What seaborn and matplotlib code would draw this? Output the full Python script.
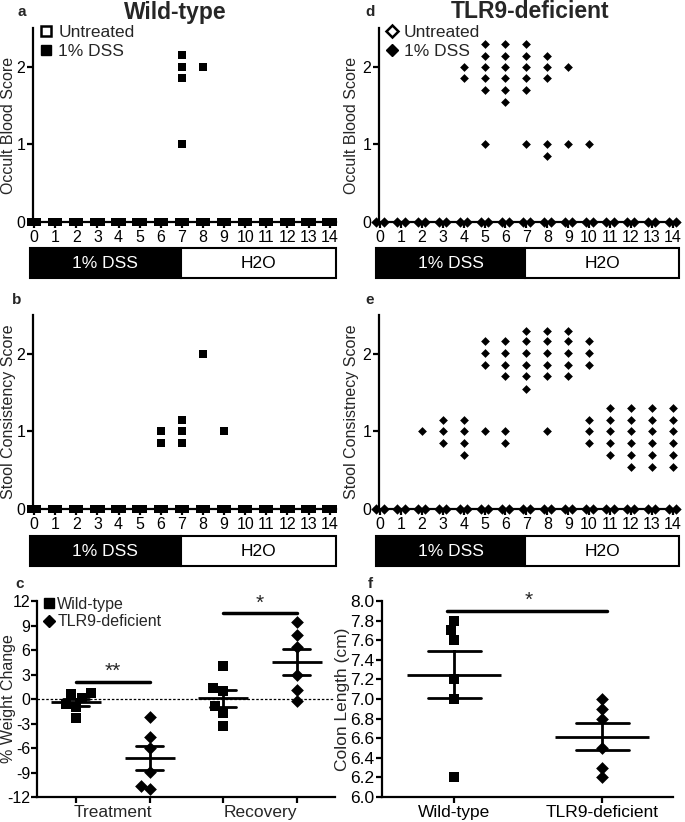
import numpy as np
import pandas as pd
import matplotlib
matplotlib.use("Agg")
import matplotlib.pyplot as plt
from matplotlib.lines import Line2D
import seaborn as sns

# ---- data ----
days = list(range(15))

# scores per day (non-zero animals only, stacked as drawn)
wt_blood = [[], [], [], [], [], [], [], [2.15, 2.0, 1.85, 1.0], [2.0],
            [], [], [], [], [], []]
wt_stool = [[], [], [], [], [], [], [1.0, 0.85], [1.15, 1.0, 0.85], [2.0],
            [1.0], [], [], [], [], []]
tlr9_blood = [[], [], [], [], [2.0, 1.85],
              [2.29, 2.14, 2.0, 1.85, 1.70, 1.0],
              [2.29, 2.14, 2.0, 1.85, 1.70, 1.54],
              [2.29, 2.14, 2.0, 1.85, 1.70, 1.0],
              [2.14, 2.0, 1.85, 1.0, 0.85],
              [2.0, 1.0], [1.0], [], [], [], []]
tlr9_stool = [[], [], [1.0], [1.15, 1.0, 0.85], [1.15, 1.0, 0.85, 0.70],
              [2.16, 2.01, 1.86, 1.0],
              [2.16, 2.01, 1.86, 1.71, 1.0, 0.85],
              [2.30, 2.16, 2.01, 1.86, 1.71, 1.55],
              [2.30, 2.16, 2.01, 1.86, 1.71, 1.0],
              [2.30, 2.16, 2.01, 1.86, 1.71],
              [2.16, 2.01, 1.86, 1.15, 1.0, 0.85],
              [1.30, 1.15, 1.0, 0.85, 0.70],
              [1.30, 1.15, 1.0, 0.85, 0.70, 0.54],
              [1.30, 1.15, 1.0, 0.85, 0.70, 0.54],
              [1.30, 1.15, 1.0, 0.85, 0.70, 0.54]]

phase_labels = ["1% DSS", "H2O"]
phase_edges = [-0.2, 6.95, 14.3]

# % weight change
wt_treatment = [0.7, 0.1, -0.6, -1.0, 0.6, -2.3]
tlr9_treatment = [-2.2, -4.6, -6.0, -8.9, -11.0, -10.6]
wt_recovery = [4.1, 1.0, 1.3, -0.9, -1.7, -3.3]
tlr9_recovery = [9.4, 7.8, 6.4, 2.9, 1.1, -0.3]
weight_periods = ["Treatment", "Recovery"]

# colon length (cm)
strains = ["Wild-type", "TLR9-deficient"]
wt_colon = [7.8, 7.7, 7.6, 7.2, 7.0, 6.2]
tlr9_colon = [7.0, 6.9, 6.8, 6.5, 6.3, 6.2]

sns.set_style("ticks")
plt.rcParams["font.family"] = ["Liberation Sans", "DejaVu Sans"]
plt.rcParams["axes.linewidth"] = 1.6
plt.rcParams["xtick.major.width"] = 1.6
plt.rcParams["ytick.major.width"] = 1.6
plt.rcParams["axes.unicode_minus"] = False

W, H = 685, 822
fig = plt.figure(figsize=(W / 100, H / 100), dpi=100)


def box(l, t, r, b):
    return fig.add_axes([l / W, 1 - b / H, (r - l) / W, (b - t) / H])


def style_axes(ax, size=11.5):
    sns.despine(ax=ax)
    ax.tick_params(axis="both", labelsize=size, length=4, pad=1.5,
                   color="k", labelcolor="k")
    for s in ["left", "bottom"]:
        ax.spines[s].set_color("k")


def score_panel(ax, scores, marker, size, zero_offsets, ylabel, label_x):
    df = pd.DataFrame([(d, s) for d, vals in zip(days, scores) for s in vals],
                      columns=["day", "score"])
    zeros = pd.DataFrame([(d + o, 0.0) for d in days for o in zero_offsets],
                         columns=["day", "score"])
    sns.scatterplot(data=zeros, x="day", y="score", marker=marker, s=size * 1.4,
                    color="k", edgecolor="k", linewidth=0, clip_on=False,
                    zorder=4, ax=ax, legend=False)
    sns.scatterplot(data=df, x="day", y="score", marker=marker, s=size,
                    color="k", edgecolor="k", linewidth=0, clip_on=False,
                    zorder=4, ax=ax, legend=False)
    ax.set_xlim(-0.05, 14.3)
    ax.set_ylim(0, 2.5)
    ax.set_xticks(days)
    ax.set_yticks([0, 1, 2])
    ax.set_xlabel("")
    ax.set_ylabel(ylabel, fontsize=11.5)
    ax.yaxis.set_label_coords(label_x, 0.5)
    style_axes(ax)


def phase_bar(l, t, r, b):
    bax = box(l, t, r, b)
    bax.barh(0, np.diff(phase_edges), left=phase_edges[:-1], height=1,
             color=["k", "w"], edgecolor="k", linewidth=1.5, clip_on=False)
    for i, lab in enumerate(phase_labels):
        mid = (phase_edges[i] + phase_edges[i + 1]) / 2
        bax.text(mid, 0, lab, ha="center", va="center", fontsize=12.5,
                 color="w" if i == 0 else "k")
    bax.set_xlim(-0.05, 14.3)
    bax.set_ylim(-0.5, 0.5)
    bax.axis("off")


def legend_sd(ax, marker, ms, anchor):
    handles = [Line2D([], [], marker=marker, ls="none", mfc="w", mec="k",
                      mew=1.8, ms=ms),
               Line2D([], [], marker=marker, ls="none", mfc="k", mec="k",
                      ms=ms)]
    ax.legend(handles, ["Untreated", "1% DSS"], loc="upper left",
              bbox_to_anchor=anchor, frameon=False, fontsize=12.5,
              handletextpad=0.3, labelspacing=0.2, handlelength=0.8,
              borderaxespad=0, borderpad=0)


# ---- panels a, b (wild-type) and d, e (TLR9) ----
ax_a = box(33, 28, 336, 222)
score_panel(ax_a, wt_blood, "s", 26, [-0.15, -0.05, 0.05, 0.15],
            "Occult Blood Score", -0.055)
legend_sd(ax_a, "s", 7, (0.02, 1.015))
phase_bar(33, 248, 336, 278)

ax_b = box(33, 315, 336, 509)
score_panel(ax_b, wt_stool, "s", 26, [-0.15, -0.05, 0.05, 0.15],
            "Stool Consistency Score", -0.055)
phase_bar(33, 536, 336, 566)

ax_d = box(379, 28, 679, 222)
score_panel(ax_d, tlr9_blood, "D", 20, [-0.17, 0.17], "Occult Blood Score",
            -0.065)
legend_sd(ax_d, "D", 6.5, (0.02, 1.015))
phase_bar(379, 248, 679, 278)

ax_e = box(379, 315, 679, 509)
score_panel(ax_e, tlr9_stool, "D", 20, [-0.17, 0.17],
            "Stool Consistnecy Score", -0.065)
phase_bar(379, 536, 679, 566)

# ---- panel c: weight change ----
order = ["WT Treatment", "TLR9 Treatment", "WT Recovery", "TLR9 Recovery"]
wdf = pd.DataFrame({
    "cond": (["WT Treatment"] * len(wt_treatment)
             + ["TLR9 Treatment"] * len(tlr9_treatment)
             + ["WT Recovery"] * len(wt_recovery)
             + ["TLR9 Recovery"] * len(tlr9_recovery)),
    "val": wt_treatment + tlr9_treatment + wt_recovery + tlr9_recovery,
})
wdf["strain"] = wdf["cond"].str.split().str[0]

ax_c = box(37, 601, 335, 797)
ax_c.axhline(0, color="k", lw=0.9, ls=(0, (2, 1.5)), zorder=1)
sns.pointplot(data=wdf, x="cond", y="val", order=order, errorbar="se",
              capsize=0.36, color="k", marker="_", markersize=36,
              markeredgewidth=2, linestyle="none", err_kws={"linewidth": 2},
              ax=ax_c)
sns.swarmplot(data=wdf[wdf.strain == "WT"], x="cond", y="val", order=order,
              marker="s", size=7.5, color="k", ax=ax_c)
sns.swarmplot(data=wdf[wdf.strain == "TLR9"], x="cond", y="val", order=order,
              marker="D", size=6.5, color="k", ax=ax_c)
ax_c.set_xlim(-0.53, 3.52)
ax_c.set_ylim(-12, 12)
ax_c.set_yticks(np.arange(-12, 13, 3))
ax_c.set_xticks([0, 1, 2, 3])
ax_c.set_xticklabels([])
ax_c.set_xticks([0.5, 2.5], minor=True)
ax_c.set_xticklabels(weight_periods, minor=True)
ax_c.set_xlabel("")
ax_c.set_ylabel("% Weight Change", fontsize=11.5)
ax_c.yaxis.set_label_coords(-0.07, 0.5)
style_axes(ax_c, 11.5)
ax_c.tick_params(axis="y", pad=1)
ax_c.tick_params(axis="x", which="minor", length=0, pad=5.5, labelsize=12.5)
# significance
ax_c.plot([0, 1], [2.1, 2.1], color="k", lw=2.5)
ax_c.text(0.5, 2.2, "**", ha="center", va="bottom", fontsize=15)
ax_c.plot([2, 3], [10.5, 10.5], color="k", lw=2.5)
ax_c.text(2.5, 10.6, "*", ha="center", va="bottom", fontsize=15)
ax_c.legend([Line2D([], [], marker="s", ls="none", color="k", ms=7),
             Line2D([], [], marker="D", ls="none", color="k", ms=6)],
            ["Wild-type", "TLR9-deficient"], loc="upper left",
            bbox_to_anchor=(0.02, 1.02), frameon=False, fontsize=11.5,
            handletextpad=0.1, labelspacing=0.15, handlelength=0.8,
            borderaxespad=0, borderpad=0)

# ---- panel f: colon length ----
cdf = pd.DataFrame({
    "strain": [strains[0]] * len(wt_colon) + [strains[1]] * len(tlr9_colon),
    "len": wt_colon + tlr9_colon,
})
ax_f = box(382, 601, 673, 797)
sns.pointplot(data=cdf, x="strain", y="len", order=strains, errorbar="se",
              capsize=0.36, color="k", marker="_", markersize=68,
              markeredgewidth=2, linestyle="none", err_kws={"linewidth": 2},
              ax=ax_f)
sns.swarmplot(data=cdf[cdf.strain == strains[0]], x="strain", y="len",
              order=strains, marker="s", size=7.5, color="k", ax=ax_f)
sns.swarmplot(data=cdf[cdf.strain == strains[1]], x="strain", y="len",
              order=strains, marker="D", size=6.5, color="k", ax=ax_f)
ax_f.set_xlim(-0.49, 1.48)
ax_f.set_ylim(6.0, 8.0)
ax_f.set_yticks(np.arange(6.0, 8.01, 0.2))
ax_f.yaxis.set_major_formatter(matplotlib.ticker.FormatStrFormatter("%.1f"))
ax_f.set_xlabel("")
ax_f.set_ylabel("Colon Length (cm)", fontsize=12.5)
ax_f.yaxis.set_label_coords(-0.11, 0.5)
style_axes(ax_f, 12.5)
ax_f.plot([-0.05, 1.03], [7.9, 7.9], color="k", lw=2.5, clip_on=False)
ax_f.text(0.5, 7.91, "*", ha="center", va="bottom", fontsize=15)

# ---- titles and panel letters ----
fig.text(175 / W, 1 - 12 / H, "Wild-type", ha="center", va="center",
         fontsize=16.5, weight="bold")
fig.text(530 / W, 1 - 12 / H, "TLR9-deficient", ha="center", va="center",
         fontsize=16.5, weight="bold")
for lab, x, y in [("a", 22, 12), ("b", 17, 300), ("c", 20, 584),
                  ("d", 370, 12), ("e", 370, 300), ("f", 370, 584)]:
    fig.text(x / W, 1 - y / H, lab, ha="center", va="center", fontsize=11,
             weight="bold")

fig.savefig("out.png", dpi=100)
